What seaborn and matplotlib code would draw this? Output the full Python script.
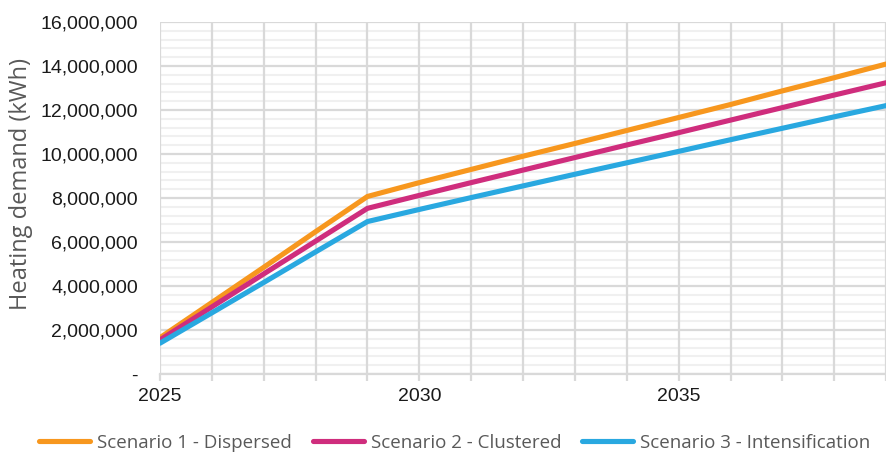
import numpy as np
import pandas as pd
import matplotlib
matplotlib.use("Agg")
import matplotlib.pyplot as plt
from matplotlib.ticker import MultipleLocator, FuncFormatter
import seaborn as sns

years = list(range(2025, 2040))
dispersed = [1.65, 3.25, 4.85, 6.47, 8.07, 8.70, 9.30, 9.90, 10.48, 11.07,
             11.66, 12.25, 12.87, 13.47, 14.09]
clustered = [1.55, 3.05, 4.55, 6.04, 7.53, 8.12, 8.70, 9.27, 9.84, 10.41,
             10.97, 11.54, 12.11, 12.68, 13.24]
intensification = [1.40, 2.78, 4.16, 5.55, 6.93, 7.48, 8.02, 8.55, 9.08, 9.60,
                   10.12, 10.65, 11.17, 11.69, 12.20]
scenarios = ["Scenario 1 - Dispersed", "Scenario 2 - Clustered",
             "Scenario 3 - Intensification"]
colors = ["#F7971E", "#CF2D7D", "#29A8E0"]

frames = []
for name, vals in zip(scenarios, [dispersed, clustered, intensification]):
    frames.append(pd.DataFrame({"Year": years,
                                "Demand": np.array(vals) * 1e6,
                                "Scenario": name}))
df = pd.concat(frames, ignore_index=True)

sns.set_theme(style="white")
plt.rcParams["font.family"] = ["Liberation Sans", "DejaVu Sans"]

fig = plt.figure(figsize=(8.87, 4.53), dpi=100)
ax = fig.add_axes([0.1804, 0.1744, 0.8186, 0.777])

sns.lineplot(data=df, x="Year", y="Demand", hue="Scenario",
             palette=colors, linewidth=3.7, ax=ax, legend=True, zorder=3)

ax.set_xlim(2025, 2039)
ax.set_ylim(0, 16e6)

ax.set_xticks(years)
ax.set_xticklabels([str(y) if y % 5 == 0 else "" for y in years])
ax.yaxis.set_major_locator(MultipleLocator(2e6))
ax.yaxis.set_minor_locator(MultipleLocator(4e5))
ax.yaxis.set_major_formatter(FuncFormatter(
    lambda v, p: "-" if v == 0 else f"{int(v):,}"))

ax.grid(which="minor", axis="y", color="#F0F0F0", linewidth=1.5)
ax.grid(which="major", axis="both", color="#D9D9D9", linewidth=1.6)
ax.set_axisbelow(True)
# vertical year lines sit above the light horizontal minor lines
ax.yaxis.set_zorder(0.5)
ax.xaxis.set_zorder(0.7)

for s in ["top", "right", "left"]:
    ax.spines[s].set_visible(False)
ax.spines["bottom"].set_color("#D9D9D9")
ax.spines["bottom"].set_linewidth(1.6)

ax.tick_params(axis="x", which="major", direction="out", length=5,
               width=1.6, color="#D9D9D9", labelsize=14, labelcolor="#1a1a1a",
               pad=5, bottom=True)
ax.tick_params(axis="y", which="both", length=0, labelsize=14,
               labelcolor="#1a1a1a", pad=16)

ax.set_xlabel("")
ax.set_ylabel("")
fig.text(21 / 887, 1 - 183.5 / 453, "Heating demand (kWh)", rotation=90,
         ha="center", va="center", fontsize=17, color="#595959",
         family=["Open Sans", "DejaVu Sans"])

handles, labels = ax.get_legend_handles_labels()
ax.get_legend().remove()
for h in handles:
    h.set_solid_capstyle("round")
fig.legend(handles, labels, loc="center",
           bbox_to_anchor=(455 / 887, 1 - 443 / 453),
           ncol=3, frameon=False, handlelength=2.72, columnspacing=1.12,
           handletextpad=0.37, borderpad=0.1,
           prop={"family": ["Open Sans", "DejaVu Sans"], "size": 13.5},
           labelcolor="#595959")

fig.savefig("out.png", dpi=100)
